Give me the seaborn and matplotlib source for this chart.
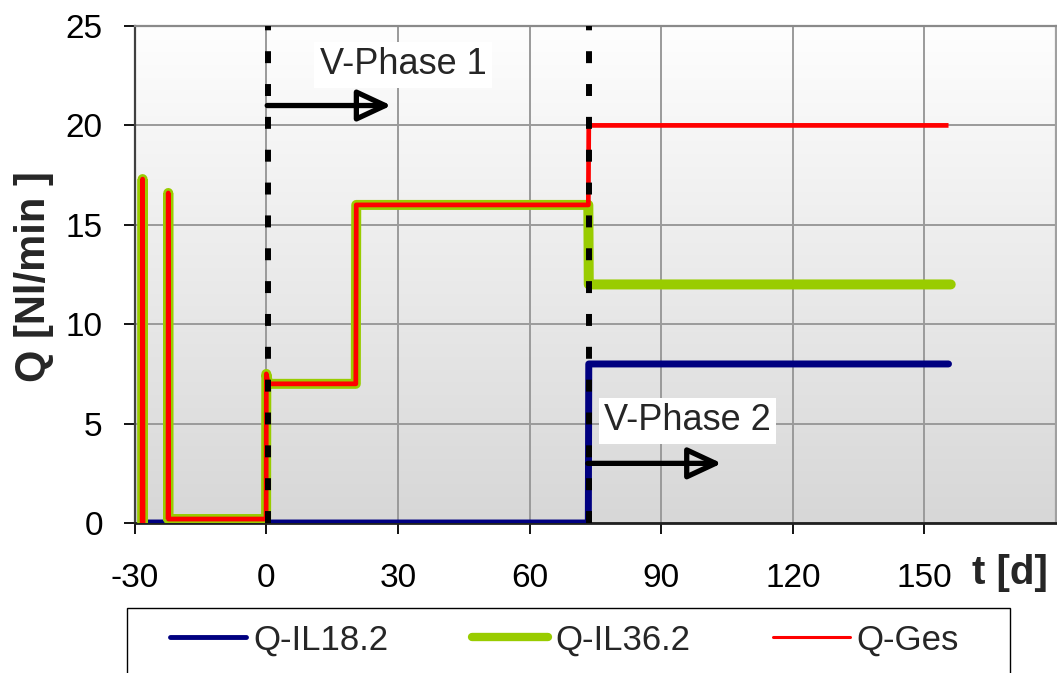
import numpy as np
import pandas as pd
import matplotlib
matplotlib.use("Agg")
import matplotlib.pyplot as plt
from matplotlib.colors import LinearSegmentedColormap
from matplotlib.lines import Line2D
from matplotlib.patches import Rectangle
import seaborn as sns

nan = np.nan

# Flow rates over time in days; NaN marks a gap in the logged data
t_il18 = [-27.4, 73.4, 73.5, 155.5]
q_il18 = [0.0, 0.0, 8.0, 8.0]

t_il36 = [-28.3, -28.2, -28.1, nan, -22.4, -22.35, -22.3, -0.05, 0.0, 0.4,
          20.4, 20.5, 73.4, 73.5, 156.0]
q_il36 = [0.0, 17.3, 0.0, nan, 0.2, 16.6, 0.2, 0.2, 7.5, 7.0,
          7.0, 16.0, 16.0, 12.0, 12.0]

t_ges = [-28.3, -28.2, -28.1, nan, -22.4, -22.35, -22.3, -0.05, 0.0, 0.4,
         20.4, 20.5, 73.4, 73.5, 155.5]
q_ges = [0.0, 17.3, 0.0, nan, 0.2, 16.6, 0.2, 0.2, 7.5, 7.0,
         7.0, 16.0, 16.0, 20.0, 20.0]

series_names = ["Q-IL18.2", "Q-IL36.2", "Q-Ges"]
series_colors = ["#000080", "#99CC00", "#FF0000"]

x_ticks = [-30, 0, 30, 60, 90, 120, 150]
y_ticks = [0, 5, 10, 15, 20, 25]

phase_starts = [0.4, 73.6]
phase_labels = ["V-Phase 1", "V-Phase 2"]


def to_frame(t, q):
    df = pd.DataFrame({"t": t, "Q": q})
    df["seg"] = df["Q"].isna().cumsum()
    return df.dropna()


sns.set_theme(style="white")
plt.rcParams["font.family"] = ["Liberation Sans", "DejaVu Sans"]
plt.rcParams["axes.unicode_minus"] = False

fig = plt.figure(figsize=(10.57, 6.73), dpi=100)
ax = fig.add_axes([134.7 / 1057, 1 - 523 / 673, (1056 - 134.7) / 1057, (523 - 26) / 673])

# vertical grey gradient behind the plot area: light at the top, darker below
grad = np.linspace(0, 1, 256).reshape(-1, 1)
cmap = LinearSegmentedColormap.from_list("bg", ["#fefefe", "#d7d7d7"])
ax.imshow(grad, extent=[-30, 180, 0, 25], aspect="auto", cmap=cmap,
          origin="upper", zorder=0, interpolation="bilinear")

line_styles = [
    dict(lw=5.0, solid_capstyle="round"),
    dict(lw=7.2, solid_capstyle="round", solid_joinstyle="round"),
    dict(lw=3.4, solid_capstyle="butt"),
]
for (t, q), color, style in zip([(t_il18, q_il18), (t_il36, q_il36), (t_ges, q_ges)],
                                series_colors, line_styles):
    sns.lineplot(data=to_frame(t, q), x="t", y="Q", units="seg", estimator=None,
                 sort=False, color=color, legend=False, ax=ax, zorder=3, **style)

ax.set_xlim(-30, 180)
ax.set_ylim(0, 25)
ax.set_xticks(x_ticks)
ax.set_yticks(y_ticks)
ax.set_xlabel("")
ax.set_ylabel("")
ax.set_axisbelow(True)
ax.grid(True, color="#9a9a9a", lw=1.4, zorder=1)
ax.tick_params(axis="both", labelsize=24, colors="black", direction="out",
               length=8, width=1.3)
ax.tick_params(axis="x", pad=21, bottom=True)
ax.tick_params(axis="y", pad=15, left=True)

ax.spines["left"].set_color("#404040")
ax.spines["left"].set_linewidth(1.6)
ax.spines["bottom"].set_color("#202020")
ax.spines["bottom"].set_linewidth(2.0)
ax.spines["top"].set_color("#8a8a8a")
ax.spines["top"].set_linewidth(1.6)
ax.spines["right"].set_color("#a0a0a0")
ax.spines["right"].set_linewidth(1.6)

# phase boundaries
for x in phase_starts:
    ax.axvline(x, color="black", lw=4.3, dashes=(2.0, 3.5), zorder=6)

# phase arrows
arrow_kw = dict(arrowstyle="-|>,head_length=0.9,head_width=0.42", lw=3.8,
                ec="black", fc="none", shrinkA=0, shrinkB=0,
                mutation_scale=23, capstyle="round", joinstyle="round")
ax.annotate("", xy=(28.5, 21.0), xytext=(0.2, 21.0), arrowprops=arrow_kw, zorder=7)
ax.annotate("", xy=(103.8, 3.0), xytext=(73.3, 3.0), arrowprops=arrow_kw, zorder=7)

box = dict(boxstyle="square,pad=0.15", fc="white", ec="none")
ax.text(31.2, 23.05, phase_labels[0], fontsize=26, ha="center", va="center",
        bbox=box, zorder=8)
ax.text(96.0, 5.15, phase_labels[1], fontsize=26, ha="center", va="center",
        bbox=box, zorder=8)

# axis titles
fig.text(34 / 1057, 1 - 277 / 673, "Q [Nl/min ]", rotation=90, fontsize=30,
         fontweight="bold", ha="center", va="center")
fig.text(1010 / 1057, 1 - 573 / 673, "t [d]", fontsize=29, fontweight="bold",
         ha="center", va="center")

# legend below the chart
handles = [
    Line2D([], [], color=series_colors[0], lw=3.5, solid_capstyle="round"),
    Line2D([], [], color=series_colors[1], lw=6.0, solid_capstyle="round"),
    Line2D([], [], color=series_colors[2], lw=2.2),
]
fig.legend(handles, series_names, loc="center left",
           bbox_to_anchor=(170 / 1057, 1 - 640 / 673), ncol=3, frameon=False,
           fontsize=25, handlelength=2.2, handletextpad=0.2, columnspacing=2.4,
           borderpad=0, borderaxespad=0)
fig.add_artist(Rectangle((127 / 1057, -0.1), (1010 - 127) / 1057,
                         0.1 + (1 - 608 / 673), transform=fig.transFigure,
                         fill=False, ec="black", lw=1.0))

fig.savefig("out.png", dpi=100)
